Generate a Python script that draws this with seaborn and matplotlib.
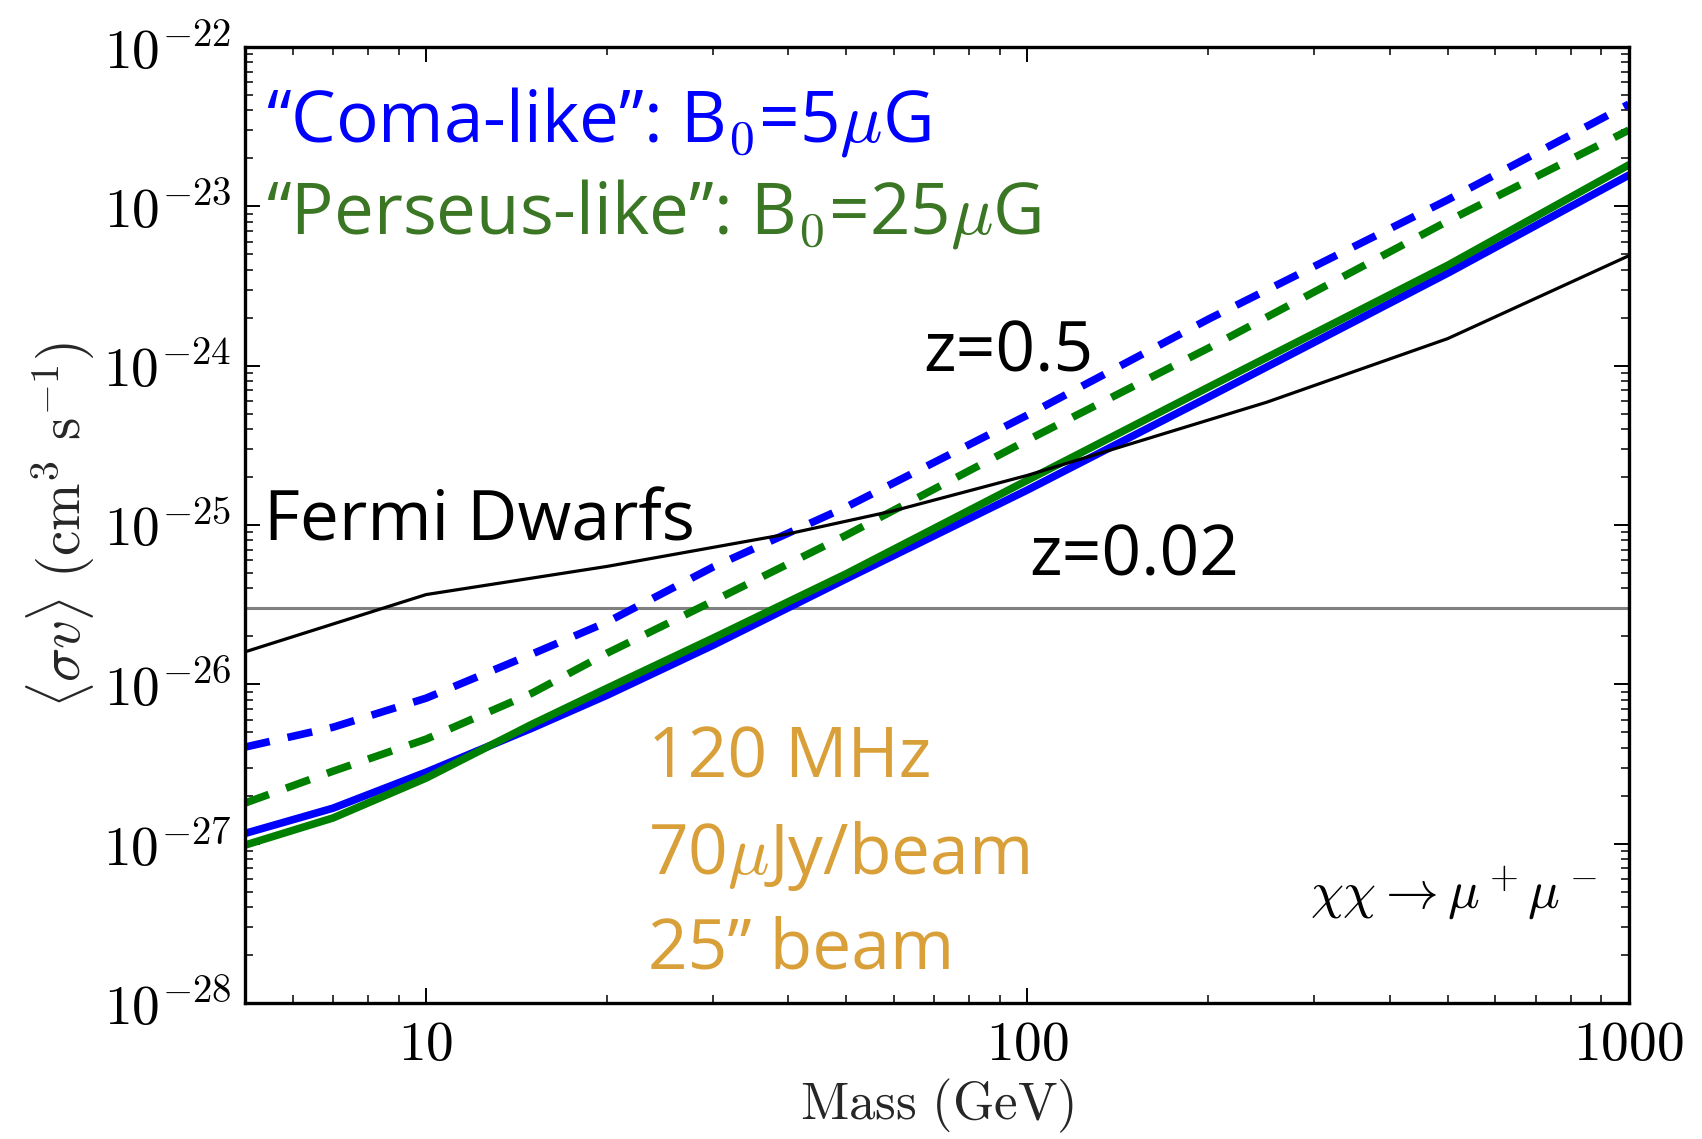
import numpy as np
import pandas as pd
import matplotlib
matplotlib.use("Agg")
import matplotlib.pyplot as plt
import seaborn as sns
from matplotlib.ticker import FixedLocator, FuncFormatter, LogLocator, NullFormatter

# ---------------- data ----------------
mass_curves = [5, 7, 10, 15, 20, 30, 50, 100, 200, 500, 1000]
coma_z002 = [1.16e-27, 1.67e-27, 2.81e-27, 5.31e-27, 8.55e-27, 1.76e-26, 4.6e-26,
             1.66e-25, 6.35e-25, 3.81e-24, 1.57e-23]
perseus_z002 = [9.8e-28, 1.45e-27, 2.58e-27, 5.62e-27, 9.46e-27, 1.95e-26, 4.95e-26,
                1.91e-25, 7.33e-25, 4.27e-24, 1.82e-23]
coma_z05 = [4.04e-27, 5.38e-27, 8.19e-27, 1.55e-26, 2.46e-26, 5.45e-26, 1.30e-25,
            4.90e-25, 1.96e-24, 1.10e-23, 4.38e-23]
perseus_z05 = [1.80e-27, 2.85e-27, 4.53e-27, 8.81e-27, 1.57e-26, 3.33e-26, 8.65e-26,
               3.41e-25, 1.29e-24, 8.09e-24, 3.01e-23]

fermi_mass = [5, 10, 20, 40, 60, 100, 250, 500, 1000]
fermi_sv = [1.6e-26, 3.66e-26, 5.5e-26, 8.8e-26, 1.23e-25, 2.05e-25, 5.9e-25, 1.48e-24, 4.9e-24]

thermal_relic = 3e-26

y_ticks = [1e-28, 1e-27, 1e-26, 1e-25, 1e-24, 1e-23, 1e-22]
x_ticks = [10, 100, 1000]

# ---------------- style ----------------
sns.set_style("ticks")
plt.rcParams["font.family"] = ["Open Sans", "DejaVu Sans"]
plt.rcParams["mathtext.fontset"] = "cm"

fig = plt.figure(figsize=(17.02, 11.39), dpi=100)
ax = fig.add_axes([0.144, 0.1194, 0.813, 0.8393])
ax.set_xscale("log")
ax.set_yscale("log")

def df(x, y):
    return pd.DataFrame({"m": x, "sv": y})

lw_c = 5.5
sns.lineplot(data=df(mass_curves, coma_z05), x="m", y="sv", ax=ax, color="#0000FF",
             lw=lw_c, estimator=None, sort=False)
ax.lines[-1].set_dashes([3.3, 2.4])
sns.lineplot(data=df(mass_curves, perseus_z05), x="m", y="sv", ax=ax, color="#008000",
             lw=lw_c, estimator=None, sort=False)
ax.lines[-1].set_dashes([3.3, 2.4])
sns.lineplot(data=df(mass_curves, coma_z002), x="m", y="sv", ax=ax, color="#0000FF",
             lw=lw_c, estimator=None, sort=False)
sns.lineplot(data=df(mass_curves, perseus_z002), x="m", y="sv", ax=ax, color="#008000",
             lw=lw_c, estimator=None, sort=False)
sns.lineplot(data=df(fermi_mass, fermi_sv), x="m", y="sv", ax=ax, color="black",
             lw=2.3, estimator=None, sort=False)
ax.axhline(thermal_relic, color="#808080", lw=2.2, zorder=1)

ax.set_xlim(5, 1000)
ax.set_ylim(1e-28, 1e-22)

# ticks
ax.xaxis.set_major_locator(FixedLocator(x_ticks))
ax.yaxis.set_major_locator(FixedLocator(y_ticks))
ax.xaxis.set_minor_locator(LogLocator(base=10, subs=np.arange(2, 10), numticks=20))
ax.yaxis.set_minor_locator(LogLocator(base=10, subs=np.arange(2, 10), numticks=20))
ax.xaxis.set_minor_formatter(NullFormatter())
ax.yaxis.set_minor_formatter(NullFormatter())
ax.xaxis.set_major_formatter(FuncFormatter(lambda v, p: r"$%d$" % round(v)))
ax.yaxis.set_major_formatter(FuncFormatter(lambda v, p: r"$10^{%d}$" % round(np.log10(v))))
ax.tick_params(which="both", direction="in", top=True, right=True, labelsize=40, pad=10,
               colors="black")
ax.tick_params(which="major", length=11, width=1.4)
ax.tick_params(which="minor", length=5.5, width=1.1)
for s in ax.spines.values():
    s.set_linewidth(2.4)
    s.set_color("black")

ax.set_xlabel(r"$\mathrm{Mass\ (GeV)}$", fontsize=38, labelpad=2)
ax.set_ylabel(r"$\langle\sigma v\rangle\ (\mathrm{cm}^3\ \mathrm{s}^{-1})$", fontsize=41, labelpad=4)

# annotations
big = 51
ax.text(0.0152, 0.9017, "“Coma-like”: B$_\\mathsf{0}$=5$\\mu$G", color="#0000FF",
        fontsize=big, transform=ax.transAxes, va="baseline", ha="left")
ax.text(0.0152, 0.8054, "“Perseus-like”: B$_\\mathsf{0}$=25$\\mu$G", color="#3A7623",
        fontsize=big, transform=ax.transAxes, va="baseline", ha="left")
ax.text(0.0137, 0.4843, "Fermi Dwarfs", color="black", fontsize=50,
        transform=ax.transAxes, va="baseline", ha="left")
ax.text(0.4899, 0.6611, "z=0.5", color="black", fontsize=50,
        transform=ax.transAxes, va="baseline", ha="left")
ax.text(0.5665, 0.4477, "z=0.02", color="black", fontsize=50,
        transform=ax.transAxes, va="baseline", ha="left")
orange = "#D9A03A"
ax.text(0.2912, 0.2354, "120 MHz", color=orange, fontsize=50,
        transform=ax.transAxes, va="baseline", ha="left")
ax.text(0.2912, 0.1349, "70$\\mu$Jy/beam", color=orange, fontsize=50,
        transform=ax.transAxes, va="baseline", ha="left")
ax.text(0.2912, 0.0356, "25” beam", color=orange, fontsize=50,
        transform=ax.transAxes, va="baseline", ha="left")
ax.text(0.9769, 0.0994, r"$\chi\chi \rightarrow \mu^+\mu^-$", color="black", fontsize=38,
        transform=ax.transAxes, va="baseline", ha="right")

fig.savefig("out.png", dpi=100)
